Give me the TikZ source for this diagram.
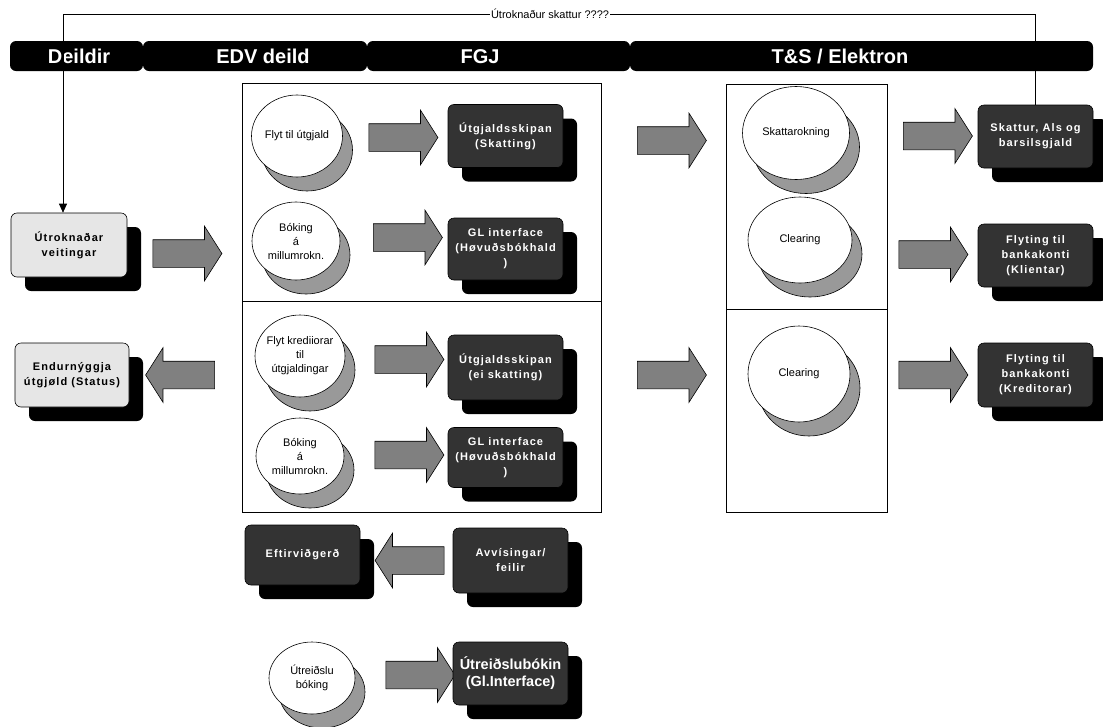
\documentclass[tikz,border=0pt]{standalone}
\usepackage{fontspec}
\setmainfont{Liberation Sans}
\usetikzlibrary{shapes.geometric,shapes.arrows,shadows,arrows.meta}
\definecolor{boxdark}{HTML}{333333}
\definecolor{boxlight}{HTML}{E6E6E6}
\definecolor{arrgray}{HTML}{808080}
\definecolor{shadegray}{HTML}{999999}
\begin{document}
\begin{tikzpicture}[x=1pt,y=-1pt,line width=0.6pt,
    hdbar/.style={fill=black,rounded corners=6pt,minimum height=30pt,inner sep=0pt},
    hdtext/.style={text=white,text height=14pt,text depth=0pt,font=\fontsize{20}{24}\selectfont\bfseries},
    darkbox/.style={draw=black,fill=boxdark,text=white,rounded corners=6pt,align=center,
        minimum width=115pt,minimum height=63pt,inner sep=1pt,
        font=\fontsize{11}{15}\selectfont\bfseries\addfontfeatures{LetterSpace=10},
        drop shadow={shadow xshift=14pt,shadow yshift=-14pt,fill=black,opacity=1}},
    lightbox/.style={darkbox,fill=boxlight,text=black},
    proc/.style={ellipse,draw=black,fill=white,inner sep=0pt,
        drop shadow={shadow xshift=10pt,shadow yshift=-14pt,fill=shadegray,draw=black,opacity=1}},
    proctext/.style={align=center,font=\fontsize{11}{14}\selectfont},
    blockarr/.style={single arrow,draw=black,fill=arrgray,inner xsep=0pt,inner ysep=13.5pt,
        minimum height=69pt,minimum width=54pt,single arrow head extend=13.5pt,
        single arrow tip angle=115}]
    \useasboundingbox (0,0) rectangle (1103,726);

    % Column headings
    \node[hdbar,minimum width=133pt] (hdDeildir) at (76.5,56) {};
    \node[hdbar,minimum width=224pt] (hdEDV) at (255,56) {};
    \node[hdbar,minimum width=263pt] (hdFGJ) at (498.5,56) {};
    \node[hdbar,minimum width=463pt] (hdTS) at (861.5,56) {};
    \node[hdtext] (txDeildir) at (79,56) {Deildir};
    \node[hdtext] (txEDV) at (263,56) {EDV deild};
    \node[hdtext] (txFGJ) at (480,56) {FGJ};
    \node[hdtext] (txTS) at (840,56) {T\&S / Elektron};

    % Frames
    \draw[line width=0.8pt] (242,83) rectangle (601,512);
    \draw[line width=0.8pt] (242,301) -- (601,301);
    \draw[line width=0.8pt] (726,84) rectangle (887,512);
    \draw[line width=0.8pt] (726,309) -- (887,309);

    % Deildir
    \node[lightbox,minimum width=116pt,minimum height=64pt] (utrokn) at (69,245) {Útroknaðar\\veitingar};
    \node[lightbox,minimum width=114pt,minimum height=64pt] (endurn) at (72,375) {Endurnýggja\\útgjøld (Status)};
    \node[blockarr] (aUtrokn) at (183,253.5) {};
    \node[blockarr,shape border rotate=180] (aEndurn) at (184.5,375) {};

    % EDV deild
    \node[proc,minimum width=91pt,minimum height=82pt,label={[proctext]center:Flyt til útgjald}] (flyt1) at (297,136) {};
    \node[proc,minimum width=88pt,minimum height=78pt,label={[proctext]center:Bóking\\á\\millumrokn.}] (bok1) at (296,241) {};
    \node[proc,minimum width=90pt,minimum height=82pt,label={[proctext]center:Flyt krediiorar\\til\\útgjaldingar}] (flyt2) at (300,356) {};
    \node[proc,minimum width=88pt,minimum height=76pt,label={[proctext]center:Bóking\\á\\millumrokn.}] (bok2) at (300,456) {};
    \node[blockarr] (a1) at (399,137.5) {};
    \node[blockarr] (a2) at (403.5,237.5) {};
    \node[blockarr] (a3) at (405,359.5) {};
    \node[blockarr] (a4) at (405,455) {};

    % FGJ
    \node[darkbox] (skip1) at (505.5,136) {Útgjaldsskipan\\(Skatting)};
    \node[darkbox,minimum height=62pt] (gl1) at (505.5,249) {GL interface\\(Høvuðsbókhald\\)};
    \node[darkbox,minimum height=65pt] (skip2) at (505.5,367.5) {Útgjaldsskipan\\(ei skatting)};
    \node[darkbox,minimum height=60pt] (gl2) at (505.5,457.5) {GL interface\\(Høvuðsbókhald\\)};
    \node[blockarr] (aT1) at (667.5,140.5) {};
    \node[blockarr] (aT2) at (667.5,375) {};

    % T&S / Elektron
    \node[proc,minimum width=107pt,minimum height=93pt,label={[proctext]center:Skattarokning}] (skattr) at (796,133) {};
    \node[proc,minimum width=104pt,minimum height=86pt,label={[proctext]center:Clearing}] (clear1) at (800,240) {};
    \node[proc,minimum width=102pt,minimum height=96pt,label={[proctext]center:Clearing}] (clear2) at (799,374) {};
    \node[blockarr] (aR1) at (933.5,136) {};
    \node[blockarr] (aR2) at (929,254.5) {};
    \node[blockarr] (aR3) at (929,375) {};
    \node[darkbox] (skatt) at (1035.5,136.5) {Skattur, Als og\\barsilsgjald};
    \node[darkbox] (klient) at (1035.5,255.5) {Flyting til\\bankakonti\\(Klientar)};
    \node[darkbox,minimum height=64pt] (kredit) at (1035.5,375) {Flyting til\\bankakonti\\(Kreditorar)};

    % Rejections and payout booking
    \node[darkbox,minimum height=60pt] (eftir) at (302.5,555) {Eftirviðgerð};
    \node[blockarr,shape border rotate=180] (aEftir) at (414,560.5) {};
    \node[darkbox,minimum height=65pt] (avvis) at (510.5,560.5) {Avvísingar/\\feilir};
    \node[proc,minimum width=86pt,minimum height=72pt,label={[proctext]center:Útreiðslu\\bóking}] (utreid) at (312,678) {};
    \node[blockarr] (aUtreid) at (416,675) {};
    \node[darkbox,font=\fontsize{14.5}{17}\selectfont\bfseries] (utbok) at (510.5,673.5) {Útreiðslubókin\\(Gl.Interface)};

    % Tax feedback line
    \node[fill=white,inner sep=1pt,font=\fontsize{11}{13}\selectfont] (lblTop) at (550,14) {Útroknaður skattur ????};
    \draw (skatt.north) |- (lblTop.east);
    \draw[-{Triangle[width=8pt,length=9pt]}] (lblTop.west) -| ([xshift=-6pt]utrokn.north);
\end{tikzpicture}
\end{document}
